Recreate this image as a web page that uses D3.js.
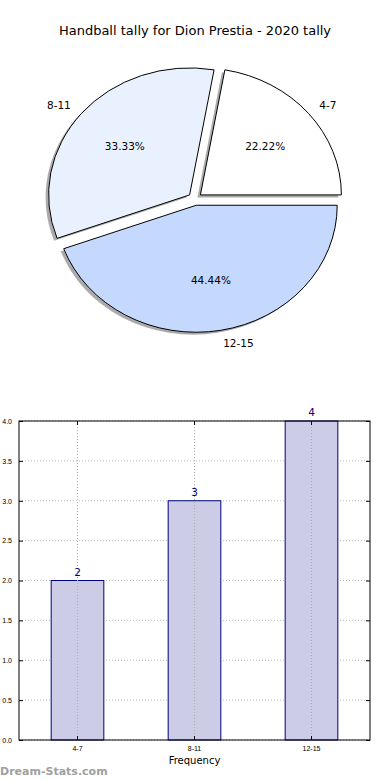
<!DOCTYPE html>
<html lang="en">
<head>
<meta charset="utf-8">
<title>Handball tally</title>
<style>
  body { margin: 0; background: #fff; }
  svg { display: block; font-family: "DejaVu Sans", sans-serif; }
</style>
</head>
<body>
<svg id="chart"></svg>
<script src="https://cdnjs.cloudflare.com/ajax/libs/d3/7.8.5/d3.min.js"></script>
<script>
const title = 'Handball tally for Dion Prestia - 2020 tally';
const categories = ['4-7', '8-11', '12-15'];
const counts = [2, 3, 4];
const sliceColors = ['#ffffff', '#eaf1fe', '#c5d8fe'];
const yTicks = [0, 0.5, 1, 1.5, 2, 2.5, 3, 3.5, 4];

const [width, height] = [390, 780];
const svg = d3.select('#chart').attr('width', width).attr('height', height);

svg.append('text')
  .attr('x', 195).attr('y', 35)
  .attr('text-anchor', 'middle')
  .style('font-size', '13px')
  .text(title);

// ---- pie (matplotlib style: ccw from 3 o'clock, exploded, shadow, slightly squashed)
const cx = 195, cy = 199, rx = 141, ry = 127, explode = 0.05;
const total = d3.sum(counts);
const pieData = d3.pie().sort(null)
  .startAngle(Math.PI / 2).endAngle(Math.PI / 2 - 2 * Math.PI)(counts);
const arc = d3.arc().innerRadius(0).outerRadius(rx);

function offset(d, k) {
  let m = (d.startAngle + d.endAngle) / 2;
  return [k * rx * Math.sin(m), -k * ry * Math.cos(m)];
}

let pieG = svg.append('g').attr('transform', 'translate(' + cx + ',' + cy + ')');

// shadow first
pieG.selectAll('path.shadow')
  .data(pieData)
  .enter()
  .append('path')
  .attr('class', 'shadow')
  .attr('transform', function(d) {
    let o = offset(d, explode);
    return 'translate(' + (o[0] - 3) + ',' + (o[1] + 2.5) + ') scale(1,' + (ry / rx) + ')';
  })
  .attr('d', arc)
  .attr('fill', '#888')
  .attr('opacity', 0.7);

pieG.selectAll('path.slice')
  .data(pieData)
  .enter()
  .append('path')
  .attr('class', 'slice')
  .attr('transform', function(d) {
    let o = offset(d, explode);
    return 'translate(' + o[0] + ',' + o[1] + ') scale(1,' + (ry / rx) + ')';
  })
  .attr('d', arc)
  .attr('fill', (d, i) => sliceColors[i])
  .attr('stroke', '#000')
  .attr('stroke-width', 1)
  .attr('vector-effect', 'non-scaling-stroke');

// labels: placed like matplotlib (left/right aligned by side)
pieG.selectAll('text.lbl')
  .data(pieData)
  .enter()
  .append('text')
  .attr('class', 'lbl')
  .attr('x', function(d) {
    let o = offset(d, explode);
    return o[0] + offset(d, 1.1)[0];
  })
  .attr('y', function(d) {
    let o = offset(d, explode);
    return o[1] + offset(d, 1.1)[1];
  })
  .attr('text-anchor', function(d) {
    return offset(d, 1)[0] > 0 ? 'start' : 'end';
  })
  .attr('dy', '0.35em')
  .style('font-size', '10.5px')
  .text((d, i) => categories[i]);

pieG.selectAll('text.pct')
  .data(pieData)
  .enter()
  .append('text')
  .attr('class', 'pct')
  .attr('x', d => offset(d, explode + 0.6)[0])
  .attr('y', d => offset(d, explode + 0.6)[1])
  .attr('text-anchor', 'middle')
  .attr('dy', '0.35em')
  .style('font-size', '10.5px')
  .text(d => (d.data / total * 100).toFixed(2) + '%');

// ---- bar chart
const plot = { left: 19, right: 370, top: 421, bottom: 740 };
const x = d3.scaleBand().domain(categories)
  .range([plot.left, plot.right]).paddingInner(0.55).paddingOuter(0.275);
const y = d3.scaleLinear().domain([0, 4]).range([plot.bottom, plot.top]);

let bg = svg.append('g');

// grid
bg.selectAll('line.hgrid')
  .data(yTicks)
  .enter()
  .append('line')
  .attr('x1', plot.left).attr('x2', plot.right)
  .attr('y1', d => y(d)).attr('y2', d => y(d))
  .attr('stroke', '#bbb').attr('stroke-dasharray', '1,2');

bg.selectAll('rect.bar')
  .data(counts)
  .enter()
  .append('rect')
  .attr('x', (d, i) => x(categories[i]))
  .attr('width', x.bandwidth())
  .attr('y', d => y(d))
  .attr('height', d => y(0) - y(d))
  .attr('fill', '#ccccE6')
  .attr('stroke', '#000080')
  .attr('stroke-width', 1);

bg.selectAll('line.vgrid')
  .data(categories)
  .enter()
  .append('line')
  .attr('x1', d => x(d) + x.bandwidth() / 2).attr('x2', d => x(d) + x.bandwidth() / 2)
  .attr('y1', plot.top).attr('y2', plot.bottom)
  .attr('stroke', '#aaa').attr('stroke-dasharray', '1,2');

bg.selectAll('text.val')
  .data(counts)
  .enter()
  .append('text')
  .attr('x', (d, i) => x(categories[i]) + x.bandwidth() / 2)
  .attr('y', d => y(d) - 5)
  .attr('text-anchor', 'middle')
  .attr('fill', '#000080')
  .style('font-size', '10.5px')
  .text(d => d);

// axes (ticks inside, both sides)
const yAxisL = d3.axisLeft(y).tickValues(yTicks).tickFormat(d3.format('.1f'))
  .tickSizeInner(-4).tickSizeOuter(0).tickPadding(7);
bg.append('g').attr('transform', 'translate(' + plot.left + ',0)').call(yAxisL)
  .call(g => g.select('.domain').remove())
  .call(g => g.selectAll('text').style('font-size', '7px').attr('fill', '#000'));
const yAxisR = d3.axisRight(y).tickValues(yTicks).tickFormat('')
  .tickSizeInner(-4).tickSizeOuter(0);
bg.append('g').attr('transform', 'translate(' + plot.right + ',0)').call(yAxisR)
  .call(g => g.select('.domain').remove());

const xAxis = d3.axisBottom(x).tickSizeInner(-4).tickSizeOuter(0).tickPadding(6);
bg.append('g').attr('transform', 'translate(0,' + plot.bottom + ')').call(xAxis)
  .call(g => g.select('.domain').remove())
  .call(g => g.selectAll('text').style('font-size', '7px').attr('fill', '#000'));
const xAxisT = d3.axisTop(x).tickFormat('').tickSizeInner(-4).tickSizeOuter(0);
bg.append('g').attr('transform', 'translate(0,' + plot.top + ')').call(xAxisT)
  .call(g => g.select('.domain').remove());

bg.append('rect')
  .attr('x', plot.left).attr('y', plot.top)
  .attr('width', plot.right - plot.left).attr('height', plot.bottom - plot.top)
  .attr('fill', 'none').attr('stroke', '#000').attr('stroke-width', 1);

svg.append('text')
  .attr('x', (plot.left + plot.right) / 2).attr('y', 764)
  .attr('text-anchor', 'middle')
  .style('font-size', '10px')
  .text('Frequency');

svg.append('text')
  .attr('x', 0).attr('y', 775)
  .attr('fill', '#a0a0a0')
  .style('font-size', '11px')
  .style('font-weight', 'bold')
  .text('Dream-Stats.com');
</script>
</body>
</html>
